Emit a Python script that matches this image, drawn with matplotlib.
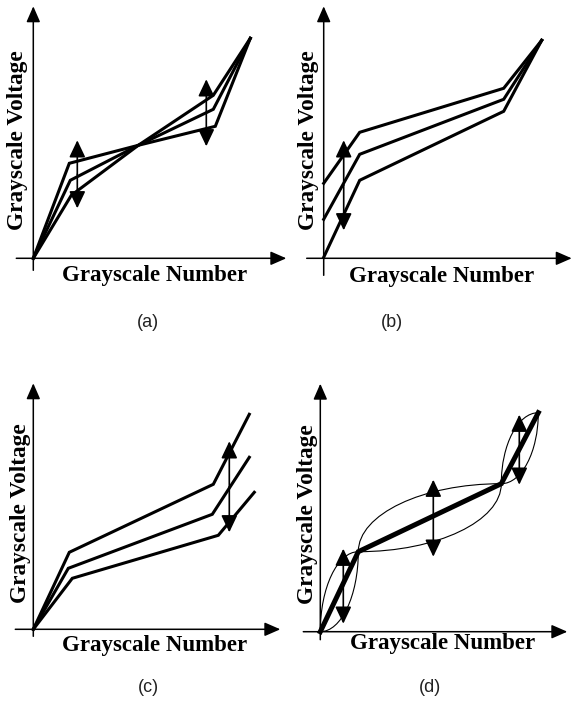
import matplotlib
matplotlib.use("Agg")
import matplotlib.pyplot as plt
from matplotlib.path import Path
from matplotlib.patches import PathPatch

# values are in pixel-like units, measured from each panel's origin

# (a) three gamma curves pivoting about a common middle point
a_x = [[0, 36, 105, 180, 217], [0, 37, 105, 180, 217], [0, 38, 105, 182, 217]]
a_y = [[0, 95, 113, 163, 220], [0, 78, 113, 149, 220], [0, 63, 113, 132, 220]]
a_arrows = [(44, 50, 118), (173, 112, 179)]

# (b) offset at the dark end
b_x = [[0, 36, 180, 218], [0, 36, 180, 218], [0, 36, 180, 218]]
b_y = [[75, 126, 170, 218], [39, 104, 159, 218], [1, 78, 147, 218]]
b_arrows = [(20, 28, 118)]

# (c) gain at the bright end
c_x = [[0, 36, 180, 216], [0, 35, 179, 216], [0, 39, 185, 221]]
c_y = [[0, 77, 145, 215], [0, 61, 115, 172], [0, 51, 94, 137]]
c_arrows = [(196, 97, 188)]

# (d) piecewise line with curved variations per segment
d_x = [0, 38, 181, 218]
d_y = [0, 80, 148, 219]
d_arrows = [(23, 8, 83), (113, 75, 152), (199, 147, 217)]

captions = ["(a)", "(b)", "(c)", "(d)"]
caption_pos = [(148, 323), (392, 323), (148, 688), (430, 688)]

W, H = 574, 714
fig = plt.figure(figsize=(W / 100, H / 100), dpi=100)
serif = ["Liberation Serif", "DejaVu Serif"]


def make_ax(ox, oy):
    left, right, top, bottom = 40, 256, 262, 50
    ax = fig.add_axes([(ox - left) / W, (H - oy - bottom) / H,
                       (left + right) / W, (top + bottom) / H])
    ax.set_xlim(-left, right)
    ax.set_ylim(-bottom, top)
    ax.axis("off")
    ax.patch.set_alpha(0)
    return ax


def arrow(ax, start, end, style, lw, scale):
    ax.annotate("", xy=end, xytext=start,
                arrowprops=dict(arrowstyle=style, lw=lw, color="black",
                                shrinkA=0, shrinkB=0, mutation_scale=scale))


def frame(ax, xa, xb, ya, yb, ylab, xlab):
    arrow(ax, (xa, 0), (xb, 0), "-|>,head_length=0.8,head_width=0.35", 1.1, 12)
    arrow(ax, (0, ya), (0, yb), "-|>,head_length=0.8,head_width=0.35", 1.1, 12)
    ax.text(ylab[0], ylab[1], "Grayscale Voltage", rotation=90, ha="center",
            va="center", family=serif, weight="bold", size=16.8)
    ax.text(xlab[0], xlab[1], "Grayscale Number", ha="center", va="center",
            family=serif, weight="bold", size=16.5)


def double_arrows(ax, arrows):
    for x, y0, y1 in arrows:
        arrow(ax, (x, (y0 + y1) / 2), (x, y1), "-|>,head_length=0.8,head_width=0.38", 1.2, 13)
        arrow(ax, (x, (y0 + y1) / 2), (x, y0), "-|>,head_length=0.8,head_width=0.38", 1.2, 13)


def lens(ax, x0, y0, x1, y1, k=0.55):
    dx, dy = x1 - x0, y1 - y0
    upper = [(x0, y0), (x0, y0 + k * dy), (x1 - k * dx, y1), (x1, y1)]
    lower = [(x0, y0), (x0 + k * dx, y0), (x1, y1 - k * dy), (x1, y1)]
    codes = [Path.MOVETO, Path.CURVE4, Path.CURVE4, Path.CURVE4]
    for pts in (upper, lower):
        ax.add_patch(PathPatch(Path(pts, codes), fill=False, lw=0.8, color="black"))


# (a)
ax = make_ax(33.3, 258.3)
frame(ax, -17, 253, -12, 252, (-16, 118), (121, -17))
for xs, ys in zip(a_x, a_y):
    ax.plot(xs, ys, color="black", lw=2.2, solid_joinstyle="miter")
double_arrows(ax, a_arrows)

# (b)
ax = make_ax(323.7, 258.3)
frame(ax, -17, 248, -17, 252, (-15, 118), (118, -18))
for xs, ys in zip(b_x, b_y):
    ax.plot(xs, ys, color="black", lw=2.2, solid_joinstyle="miter")
double_arrows(ax, b_arrows)

# (c)
ax = make_ax(33.3, 629.3)
frame(ax, -18, 247, -7, 246, (-13, 116), (121, -16))
for xs, ys in zip(c_x, c_y):
    ax.plot(xs, ys, color="black", lw=2.2, solid_joinstyle="miter")
double_arrows(ax, c_arrows)

# (d)
ax = make_ax(320.3, 631.7)
frame(ax, -17, 247, -8, 248, (-13, 118), (122, -12))
ax.plot(d_x, d_y, color="black", lw=3.6, solid_joinstyle="miter")
for i in range(len(d_x) - 1):
    lens(ax, d_x[i], d_y[i], d_x[i + 1], d_y[i + 1])
double_arrows(ax, d_arrows)

for text, (px, py) in zip(captions, caption_pos):
    fig.text(px / W, 1 - py / H, text, ha="center", va="center",
             family=["Liberation Sans", "DejaVu Sans"], size=13, color="#222222")

fig.savefig("out.png", dpi=100, facecolor="white")
